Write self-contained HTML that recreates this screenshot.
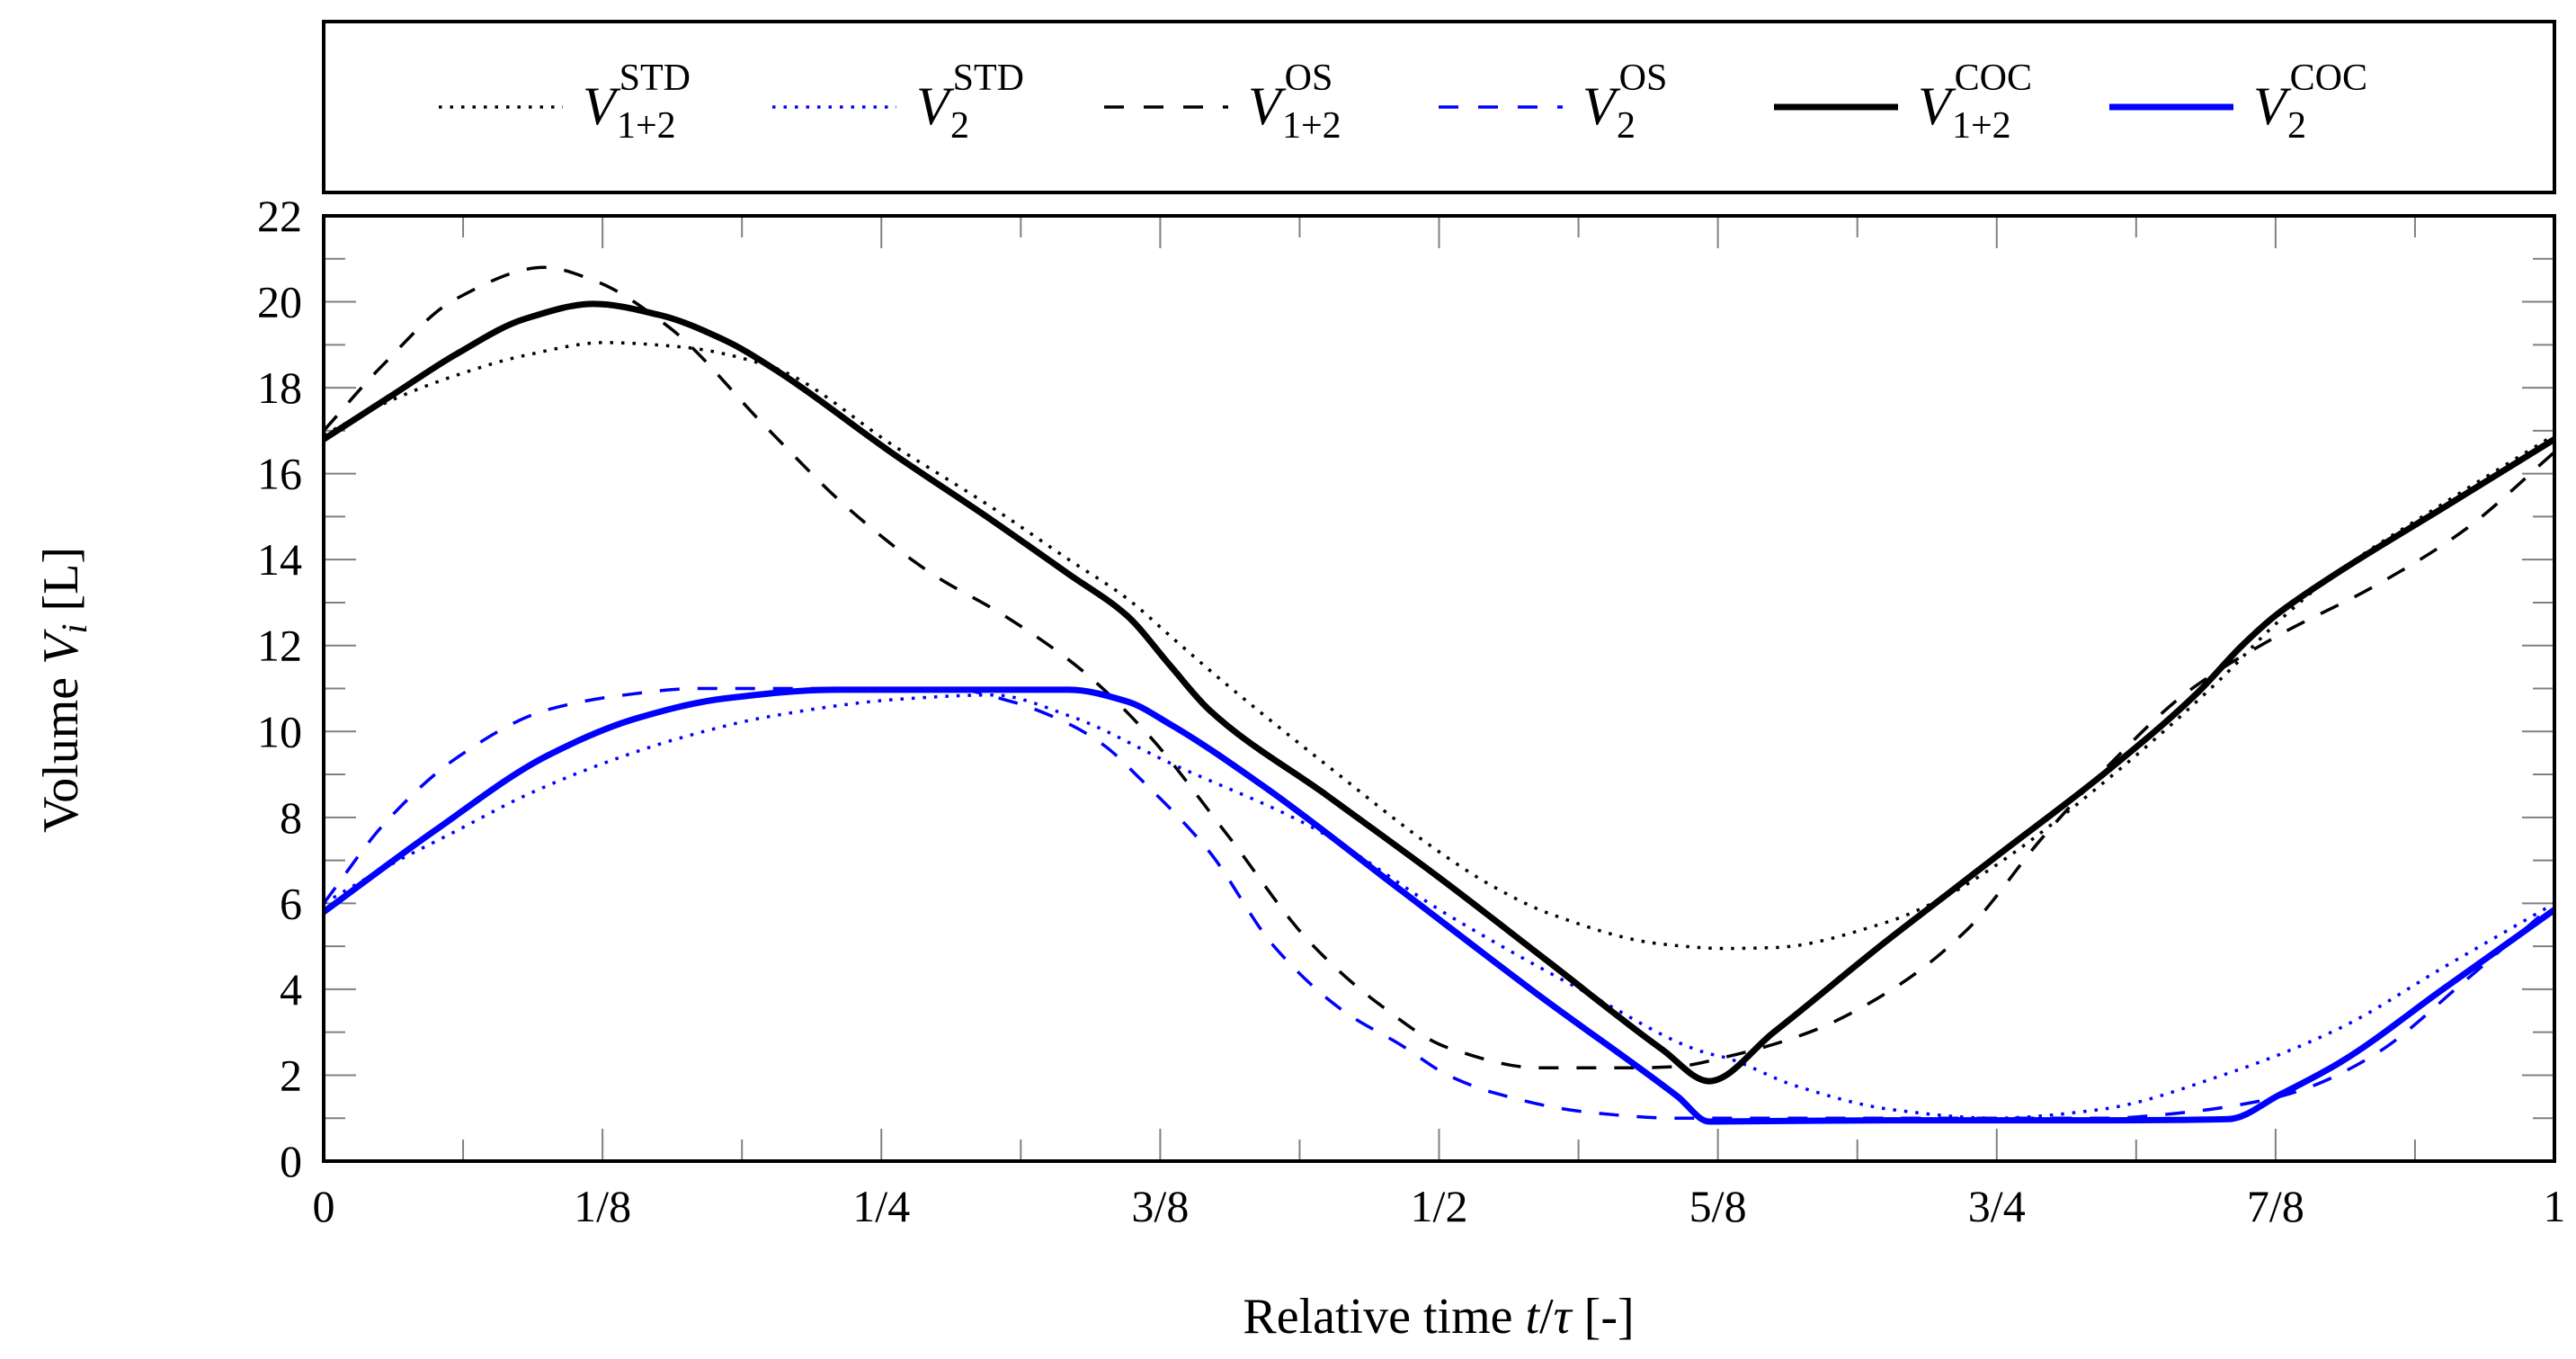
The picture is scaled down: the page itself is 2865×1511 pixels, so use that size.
<!DOCTYPE html>
<html><head><meta charset="utf-8">
<style>
html,body{margin:0;padding:0;background:#fff;}
svg{display:block;}
text{font-family:"Liberation Serif","DejaVu Serif",serif;fill:#000;}
</style></head>
<body>
<svg id="chart" width="2865" height="1511" viewBox="0 0 2865 1511" xmlns="http://www.w3.org/2000/svg">
  <g id="grid-ticks"></g>
  <g id="series"></g>
  <rect x="360" y="240" width="2481" height="1051" fill="none" stroke="#000" stroke-width="4"/>
  <g id="labels"></g>
  <text x="1600" y="1482" font-size="56" text-anchor="middle">Relative time <tspan font-style="italic">t</tspan>/<tspan font-style="italic">τ</tspan> [-]</text>
  <text transform="translate(86,767) rotate(-90)" font-size="56" text-anchor="middle">Volume <tspan font-style="italic">V</tspan><tspan font-style="italic" font-size="40" dy="10">i</tspan><tspan dy="-10"> [L]</tspan></text>
  <rect x="360" y="24" width="2481" height="190" fill="none" stroke="#000" stroke-width="4"/>
  <g id="legend"></g>
</svg>
<script>
// ---- data ----
const xTickLabels = ["0","1/8","1/4","3/8","1/2","5/8","3/4","7/8","1"];
const yTickLabels = ["0","2","4","6","8","10","12","14","16","18","20","22"];

const std12T = [0,0.03,0.06,0.09,0.126,0.16,0.2,0.257,0.3,0.334,0.36,0.38,0.4,0.45,0.5,0.524,0.55,0.6,0.628,0.65,0.7,0.725,0.75,0.8,0.85,0.875,0.9,0.95,1];
const std12V = [16.9,17.7,18.3,18.75,19.05,18.95,18.5,16.6,15.2,14.0,13.1,12.2,11.3,9.2,7.2,6.4,5.75,5.05,4.95,4.97,5.55,6.1,6.9,8.9,11.2,12.5,13.6,15.3,16.9];

const std2T = [0,0.03,0.06,0.09,0.125,0.16,0.2,0.258,0.3,0.335,0.38,0.442,0.504,0.565,0.619,0.629,0.66,0.703,0.749,0.796,0.854,0.904,0.95,1];
const std2V = [6.0,6.9,7.7,8.5,9.25,9.85,10.35,10.75,10.85,10.35,9.25,7.8,5.73,3.95,2.53,2.4,1.75,1.2,1.0,1.2,2.05,3.1,4.5,6.0];

const os12T = [0,0.026,0.059,0.099,0.121,0.155,0.198,0.235,0.273,0.305,0.339,0.369,0.405,0.442,0.473,0.504,0.545,0.586,0.606,0.629,0.666,0.705,0.737,0.77,0.8,0.835,0.875,0.92,0.96,1];
const os12V = [17.0,18.5,20.06,20.8,20.5,19.4,17.1,15.2,13.66,12.7,11.46,9.96,7.6,5.1,3.66,2.64,2.17,2.17,2.2,2.43,3.0,4.06,5.4,7.5,9.2,10.9,12.2,13.4,14.7,16.5];

const os2T = [0,0.028,0.06,0.1,0.135,0.167,0.28,0.308,0.335,0.35,0.366,0.397,0.426,0.457,0.483,0.504,0.524,0.565,0.606,0.7,0.8,0.828,0.87,0.889,0.92,0.96,1];
const os2V = [6.0,7.9,9.4,10.5,10.85,11.0,11.0,10.7,10.15,9.67,8.9,7.2,5.0,3.5,2.7,2.0,1.6,1.15,1.0,1.0,1.0,1.1,1.42,1.7,2.5,4.2,6.0];

const coc12T = [0,0.03,0.06,0.09,0.121,0.15,0.18,0.2,0.257,0.3,0.334,0.36,0.38,0.397,0.45,0.5,0.55,0.6,0.621,0.65,0.7,0.725,0.75,0.8,0.84,0.86,0.875,0.9,0.95,1];
const coc12V = [16.8,17.8,18.8,19.6,19.95,19.7,19.1,18.5,16.4,14.9,13.66,12.7,11.5,10.5,8.5,6.6,4.6,2.6,1.86,3.0,5.1,6.1,7.1,9.1,10.9,12.0,12.7,13.6,15.2,16.8];

const coc2T = [0,0.05,0.1,0.14,0.18,0.23,0.334,0.36,0.38,0.422,0.483,0.545,0.607,0.621,0.7,0.8,0.854,0.877,0.904,0.95,1];
const coc2V = [5.8,7.7,9.43,10.3,10.77,10.97,10.97,10.7,10.15,8.7,6.3,3.85,1.5,0.92,0.95,0.95,0.98,1.55,2.3,4.0,5.85];

// ---- axes ----
const X0=360, X1=2841, Y0=1291, Y1=240, YMAX=22;
const sx = t => X0 + t*(X1-X0);
const sy = v => Y0 - v/YMAX*(Y0-Y1);
const NS="http://www.w3.org/2000/svg";
function mk(tag, attrs, parent){const e=document.createElementNS(NS,tag);for(const k in attrs)e.setAttribute(k,attrs[k]);parent.appendChild(e);return e;}

const ticks=document.getElementById('grid-ticks');
for(let i=0;i<=16;i++){
  const x=sx(i/16), len=(i%2===0)?36:24;
  const a=mk('line',{x1:x,x2:x,y1:Y0,y2:Y0-len,stroke:'#808080','stroke-width':2},ticks);
  
  
  const b=mk('line',{x1:x,x2:x,y1:Y1,y2:Y1+len,stroke:'#808080','stroke-width':2},ticks);
  
  
}
for(let v=0;v<=22;v++){
  const y=sy(v), len=(v%2===0)?36:24;
  const a=mk('line',{x1:X0,x2:X0+len,y1:y,y2:y,stroke:'#808080','stroke-width':2},ticks);
  
  
  const b=mk('line',{x1:X1,x2:X1-len,y1:y,y2:y,stroke:'#808080','stroke-width':2},ticks);
  
  
}
const labels=document.getElementById('labels');
xTickLabels.forEach((s,i)=>{
  const t=mk('text',{x:sx(i/8),y:1358,'font-size':50,'text-anchor':'middle'},labels);
  
  
  t.textContent=s;
});
yTickLabels.forEach((s,i)=>{
  const t=mk('text',{x:336,y:sy(i*2)+17,'font-size':50,'text-anchor':'end'},labels);
  
  
  t.textContent=s;
});

// ---- series (monotone cubic) ----
function pathFor(T,V){
  const n=T.length, xs=T.map(sx), ys=V.map(sy);
  const d=[], m=new Array(n);
  for(let i=0;i<n-1;i++) d.push((ys[i+1]-ys[i])/(xs[i+1]-xs[i]));
  m[0]=d[0]; m[n-1]=d[n-2];
  for(let i=1;i<n-1;i++){
    if(d[i-1]*d[i]<=0) m[i]=0;
    else { const w1=2*(xs[i+1]-xs[i])+(xs[i]-xs[i-1]), w2=(xs[i+1]-xs[i])+2*(xs[i]-xs[i-1]);
      m[i]=(w1+w2)/(w1/d[i-1]+w2/d[i]); }
  }
  let p='M'+xs[0].toFixed(1)+','+ys[0].toFixed(1);
  for(let i=0;i<n-1;i++){
    const h=(xs[i+1]-xs[i])/3;
    p+=' C'+(xs[i]+h).toFixed(1)+','+(ys[i]+m[i]*h).toFixed(1)+' '+(xs[i+1]-h).toFixed(1)+','+(ys[i+1]-m[i+1]*h).toFixed(1)+' '+xs[i+1].toFixed(1)+','+ys[i+1].toFixed(1);
  }
  return p;
}
const BLUE='#0000ff';
const styles={
  dotted:{w:3.5,dash:'3.5 9'},
  dashed:{w:3.5,dash:'22 20'},
  solid:{w:7,dash:''}
};
const series=document.getElementById('series');
function draw(T,V,color,st,name){
  const s=styles[st];
  const e=mk('path',{d:pathFor(T,V),fill:'none',stroke:color,'stroke-width':s.w,'stroke-linejoin':'round'},series);
  if(s.dash)e.setAttribute('stroke-dasharray',s.dash);
  
  
}
draw(std12T,std12V,'#000','dotted','line-v12-std');
draw(std2T,std2V,BLUE,'dotted','line-v2-std');
draw(os12T,os12V,'#000','dashed','line-v12-os');
draw(os2T,os2V,BLUE,'dashed','line-v2-os');
draw(coc12T,coc12V,'#000','solid','line-v12-coc');
draw(coc2T,coc2V,BLUE,'solid','line-v2-coc');

// ---- legend ----
const legend=document.getElementById('legend');
const entries=[
  {x:488,color:'#000',st:'dotted',sup:'STD',sub:'1+2',name:'legend-entry-v12-std'},
  {x:859,color:BLUE,st:'dotted',sup:'STD',sub:'2',name:'legend-entry-v2-std'},
  {x:1228,color:'#000',st:'dashed',sup:'OS',sub:'1+2',name:'legend-entry-v12-os'},
  {x:1600,color:BLUE,st:'dashed',sup:'OS',sub:'2',name:'legend-entry-v2-os'},
  {x:1973,color:'#000',st:'solid',sup:'COC',sub:'1+2',name:'legend-entry-v12-coc'},
  {x:2346,color:BLUE,st:'solid',sup:'COC',sub:'2',name:'legend-entry-v2-coc'}
];
entries.forEach(en=>{
  const g=mk('g',{},legend);
  
  
  const s=styles[en.st];
  const l=mk('line',{x1:en.x,x2:en.x+138,y1:119,y2:119,stroke:en.color,'stroke-width':s.w},g);
  if(s.dash)l.setAttribute('stroke-dasharray',en.st==='dashed'?'22 22':s.dash);
  
  
  const t=mk('text',{x:en.x+160,y:138,'font-size':60},g);
  
  
  t.innerHTML='<tspan font-style="italic">V</tspan><tspan font-size="42" dx="4" dy="-38">'+en.sup+'</tspan>';
  const t2=mk('text',{x:en.x+198,y:153,'font-size':42},g);
  
  
  t2.textContent=en.sub;
});
</script>
</body></html>
